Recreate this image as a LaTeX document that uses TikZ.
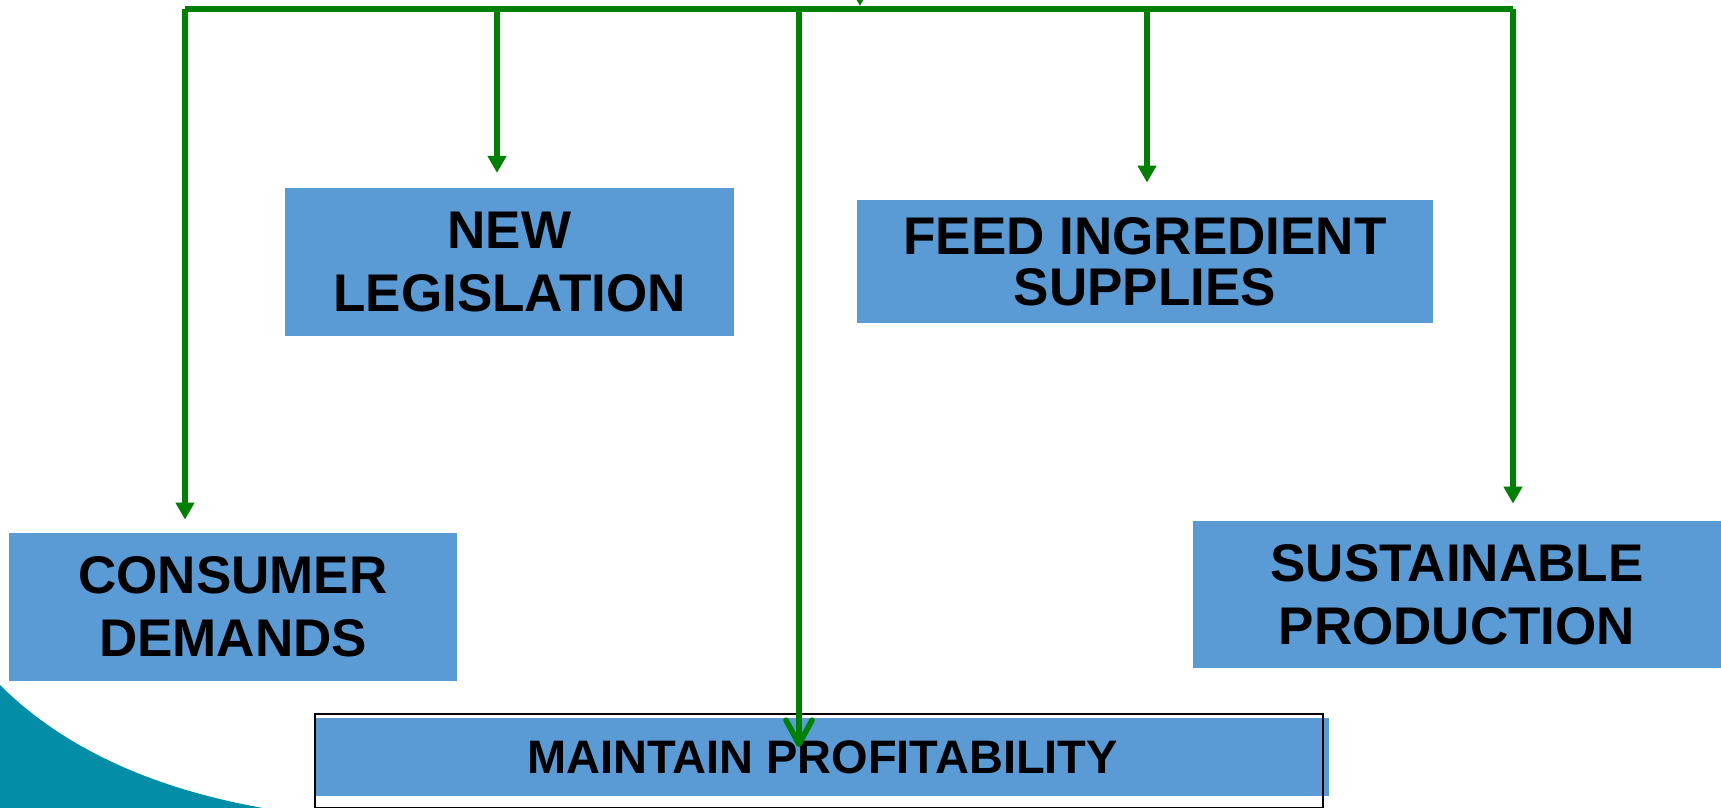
\documentclass[tikz,border=0pt]{standalone}
\usepackage{fontspec}
\setmainfont{Liberation Sans}
\usetikzlibrary{arrows.meta}
\definecolor{boxblue}{HTML}{5B9BD5}
\definecolor{linegreen}{HTML}{008000}
\definecolor{swoosh}{HTML}{048DA6}
\begin{document}
\begin{tikzpicture}[x=0.5pt,y=-0.5pt,
  factor/.style={fill=boxblue, inner sep=0pt, align=center, font=\fontsize{26.5}{31.5}\selectfont\bfseries},
  wire/.style={line width=2.8pt, linegreen},
  flow/.style={wire, -{Triangle[length=8.5pt,width=9pt]}}]
\useasboundingbox (0,0) rectangle (1721,808);
  \fill[swoosh] (0,685) .. controls (60,745) and (150,790) .. (275,810) -- (0,810) -- cycle;
  \node[factor, minimum width=224.5pt, minimum height=73.7pt] (leg) at (509.5,262) {NEW\\LEGISLATION};
  \node[factor, minimum width=288pt, minimum height=61.35pt, font=\fontsize{26.5}{27}\selectfont\bfseries] (feed) at (1145,261.3) {FEED INGREDIENT\\[-1.5pt]SUPPLIES};
  \node[factor, minimum width=224pt, minimum height=74pt] (cons) at (233,607) {CONSUMER\\DEMANDS};
  \node[factor, minimum width=264pt, minimum height=73.5pt] (sust) at (1457,594.5) {SUSTAINABLE\\PRODUCTION};
  \node[factor, minimum width=506.5pt, minimum height=39pt, font=\fontsize{23.5}{28}\selectfont\bfseries] (maint) at (822.5,757) {MAINTAIN PROFITABILITY};
  \node[draw, line width=0.8pt, minimum width=504pt, minimum height=46.75pt, inner sep=0pt] (frame) at (819,760.75) {};
  % arrows from the top line
  \coordinate (src) at (860,-40);
  \coordinate (srctip) at (860,6);
  \coordinate (top-mid) at (799,9);
  \coordinate (aim) at (799,747);
  \foreach \x/\b/\g in {185/cons/6.5pt,497/leg/7.5pt,1147/feed/8.5pt,1513/sust/8.5pt}{
    \coordinate (top-\b) at (\x,9);
    \draw[flow, shorten >=\g] (top-\b) -- (top-\b |- \b.north);
  }
  \draw[wire] (top-cons) -- (top-sust);
  \draw[flow] (src) -- (srctip);
  \draw[wire, -{Straight Barb[length=12pt,width=13pt,round]}] (top-mid) -- (aim);
\end{tikzpicture}
\end{document}
